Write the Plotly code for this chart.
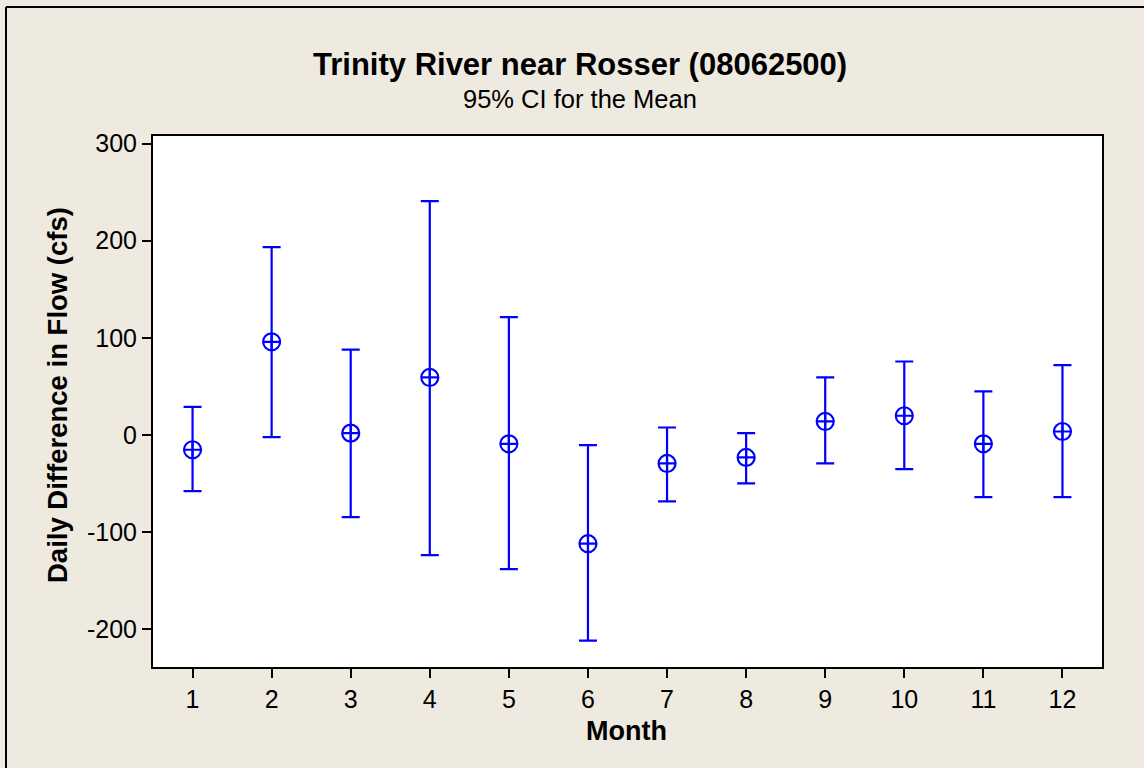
import plotly.graph_objects as go

months = [1, 2, 3, 4, 5, 6, 7, 8, 9, 10, 11, 12]
mean = [-15.1, 96.0, 2.0, 59.3, -9.0, -111.8, -29.2, -23.0, 14.0, 19.9, -9.0, 3.7]
upper = [29.1, 193.4, 88.0, 240.7, 121.4, -10.3, 7.8, 2.0, 59.3, 75.7, 44.9, 72.0]
lower = [-57.6, -2.1, -84.4, -123.5, -137.9, -211.6, -68.3, -49.8, -29.2, -35.0, -63.8, -63.8]
xticks = list(range(1, 13))
yticks = [-200, -100, 0, 100, 200, 300]

BLUE = "#0000FF"
BG = "#EEEAE0"
FONT = "Liberation Sans, Arial, sans-serif"

W, H = 1144, 768
L, R, T, B = 153, 42, 136, 101
pw, ph = W - L - R, H - T - B

def px_x(p):
    return (p - L) / pw

def px_y(p):
    return (H - B - p) / ph

fig = go.Figure()
fig.add_trace(go.Scatter(
    x=months, y=mean, mode="markers",
    marker=dict(symbol="circle-cross-open", size=17, color=BLUE,
                line=dict(width=2.2, color=BLUE)),
    error_y=dict(type="data", symmetric=False,
                 array=[u - m for u, m in zip(upper, mean)],
                 arrayminus=[m - l for m, l in zip(mean, lower)],
                 color=BLUE, thickness=2.2, width=9),
    showlegend=False, hoverinfo="skip",
))

annotations = [
    dict(text="<b>Trinity River near Rosser (08062500)</b>", xref="paper", yref="paper",
         x=px_x(580), y=px_y(65), xanchor="center", yanchor="middle", showarrow=False,
         font=dict(family=FONT, size=31, color="black")),
    dict(text="95% CI for the Mean", xref="paper", yref="paper",
         x=px_x(580), y=px_y(99), xanchor="center", yanchor="middle", showarrow=False,
         font=dict(family=FONT, size=25.5, color="black")),
    dict(text="<b>Month</b>", xref="paper", yref="paper",
         x=px_x(626), y=px_y(731), xanchor="center", yanchor="middle", showarrow=False,
         font=dict(family=FONT, size=27, color="black")),
    dict(text="<b>Daily Difference in Flow (cfs)</b>", xref="paper", yref="paper",
         x=px_x(57), y=px_y(395), xanchor="center", yanchor="middle", showarrow=False,
         textangle=-90, font=dict(family=FONT, size=27.5, color="black")),
]

fig.update_layout(
    width=W, height=H,
    margin=dict(l=L, r=R, t=T, b=B),
    paper_bgcolor=BG, plot_bgcolor="white",
    font=dict(family=FONT, color="black", size=25),
    xaxis=dict(
        range=[0.5, 12.5], tickvals=xticks, ticktext=[str(v) for v in xticks],
        showgrid=False, zeroline=False, showline=True, linecolor="black",
        linewidth=2, mirror=True, ticks="outside", ticklen=9, tickwidth=2,
        tickcolor="black", tickfont=dict(size=25, family=FONT),
    ),
    yaxis=dict(
        range=[-238.7, 307.8], tickvals=yticks, ticktext=[str(v) for v in yticks],
        showgrid=False, zeroline=False, showline=True, linecolor="black",
        linewidth=2, mirror=True, ticks="outside", ticklen=9, tickwidth=2,
        tickcolor="black", tickfont=dict(size=25, family=FONT),
    ),
    annotations=annotations,
    shapes=[
        dict(type="line", xref="paper", yref="paper",
             x0=px_x(6), x1=px_x(W + 5), y0=px_y(7), y1=px_y(7),
             line=dict(color="black", width=2)),
        dict(type="line", xref="paper", yref="paper",
             x0=px_x(6), x1=px_x(6), y0=px_y(7), y1=px_y(H + 5),
             line=dict(color="black", width=2)),
    ],
)

fig.write_html("out.html", config={"displayModeBar": False},
               post_script="document.body.style.margin='0';document.body.style.overflow='hidden';")
